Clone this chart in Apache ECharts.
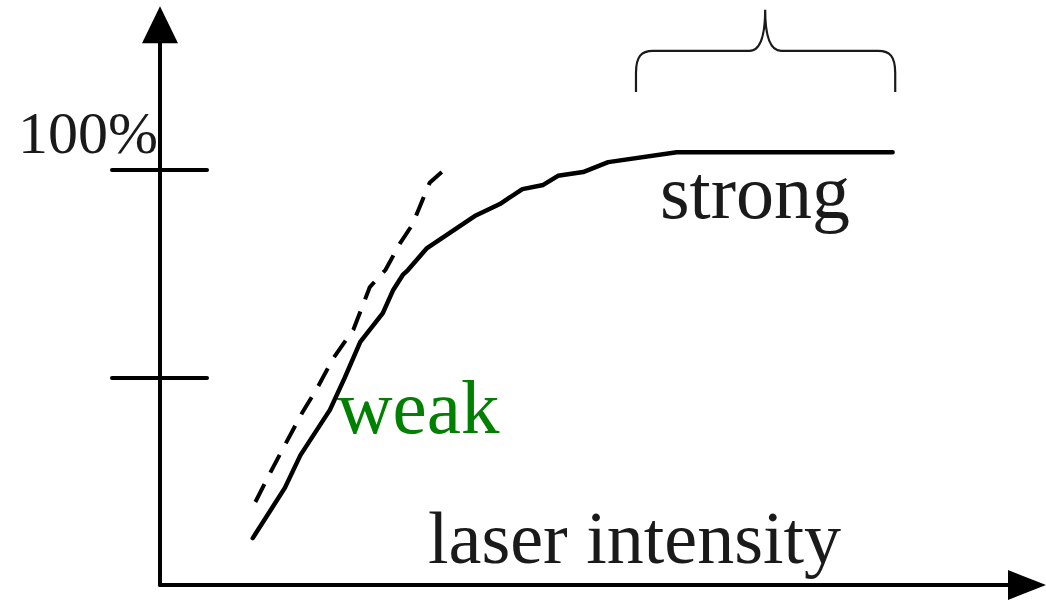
<!DOCTYPE html>
<html>
<head>
<meta charset="utf-8">
<script src="https://cdn.jsdelivr.net/npm/echarts@6/dist/echarts.min.js"></script>
<style>
html, body { margin: 0; padding: 0; background: #fff; }
#chart { width: 1046px; height: 603px; }
</style>
</head>
<body>
<div id="chart"></div>
<script>
// response curve (solid), x = laser intensity, y = percent
const responseX = [10.7, 14.4, 16.2, 19.6, 21.3, 23.1, 25.7, 26.9, 28.0, 28.6, 30.3, 30.8, 36.3, 39.2, 41.8, 44.2, 45.9, 48.8, 51.7, 59.6, 84.5];
const responseY = [11.3, 23.4, 31.3, 42.2, 49.9, 58.6, 65.5, 71.1, 74.7, 75.9, 80.0, 81.2, 88.9, 91.8, 95.4, 96.4, 98.6, 99.5, 101.9, 104.3, 104.3];
// linear (weak) trend, dashed
const linearX = [11.0, 12.7, 14.4, 16.4, 18.2, 20.0, 22.3, 24.2, 26.0, 27.7, 29.1, 31.1, 32.5];
const linearY = [20.0, 27.0, 33.7, 41.5, 47.7, 54.7, 61.5, 71.8, 75.9, 82.4, 86.8, 96.9, 99.5];
// brace over the saturated range: [left, right, middle, endY, barY, tipY]
const brace = [[54.9, 84.8, 69.8, 118.8, 128.7, 138.6]];
const yTicks = [50, 100];
const yLabels = [100];

const ink = '#1a1a1a';
const font = '"Liberation Serif", "Times New Roman", serif';

function pairs(xs, ys) {
    return xs.map((x, i) => [x, ys[i]]);
}

const chart = echarts.init(document.getElementById('chart'), null, { renderer: 'svg' });

const option = {
    animation: false,
    backgroundColor: '#fff',
    grid: { left: 160, right: 19, top: 24.75, bottom: 18 },
    xAxis: {
        type: 'value',
        min: 0,
        max: 100,
        axisLine: {
            show: true,
            symbol: ['none', 'triangle'],
            symbolSize: [30, 38],
            lineStyle: { color: '#000', width: 4 }
        },
        axisTick: { show: false },
        axisLabel: { show: false },
        splitLine: { show: false }
    },
    yAxis: [{
        type: 'value',
        min: 0,
        max: 135,
        axisLine: {
            show: true,
            symbol: ['none', 'triangle'],
            symbolSize: [36, 37],
            lineStyle: { color: '#000', width: 4 }
        },
        axisTick: {
            show: true,
            customValues: yTicks,
            length: 48,
            lineStyle: { color: '#000', width: 4, cap: 'round' }
        },
        axisLabel: {
            show: true,
            customValues: yLabels,
            formatter: '{value}%',
            margin: 2,
            fontFamily: font,
            fontSize: 60,
            color: ink,
            verticalAlign: 'bottom',
            lineHeight: 60,
            padding: [0, 0, 7, 0]
        },
        splitLine: { show: false }
    }, {
        type: 'value',
        min: 0,
        max: 135,
        position: 'left',
        axisLine: { show: false },
        axisTick: {
            show: true,
            inside: true,
            customValues: yTicks,
            length: 47,
            lineStyle: { color: '#000', width: 4, cap: 'round' }
        },
        axisLabel: { show: false },
        splitLine: { show: false }
    }],
    series: [{
        type: 'line',
        data: pairs(responseX, responseY),
        symbol: 'none',
        lineStyle: { color: '#000', width: 4.5, cap: 'round', join: 'round' }
    }, {
        type: 'line',
        data: pairs(linearX, linearY),
        symbol: 'none',
        lineStyle: { color: '#000', width: 4, type: [20, 13] }
    }, {
        type: 'custom',
        data: brace,
        renderItem: function (params, api) {
            const l = api.coord([api.value(0), api.value(3)]);
            const r = api.coord([api.value(1), api.value(3)]);
            const m = api.coord([api.value(2), api.value(5)]);
            const yh = api.coord([api.value(2), api.value(4)])[1];
            const yb = l[1];
            const d = [
                'M', l[0], yb,
                'L', l[0], yh + 22,
                'C', l[0], yh + 6, l[0] + 5, yh, l[0] + 17, yh,
                'L', m[0] - 16, yh,
                'Q', m[0], yh, m[0], m[1],
                'Q', m[0], yh, m[0] + 16, yh,
                'L', r[0] - 17, yh,
                'C', r[0] - 5, yh, r[0], yh + 6, r[0], yh + 22,
                'L', r[0], yb
            ].join(' ');
            return {
                type: 'path',
                shape: { pathData: d },
                style: { fill: 'none', stroke: ink, lineWidth: 2.2 }
            };
        }
    }],
    graphic: [{
        type: 'text',
        x: 660, y: 192,
        style: { text: 'strong', font: '76px ' + font, fill: ink, verticalAlign: 'middle' }
    }, {
        type: 'text',
        x: 337, y: 407,
        style: { text: 'weak', font: '77px ' + font, fill: '#008000', verticalAlign: 'middle' }
    }, {
        type: 'text',
        x: 428, y: 538,
        style: { text: 'laser intensity', font: '74px ' + font, fill: ink, verticalAlign: 'middle' }
    }]
};

chart.setOption(option);
</script>
</body>
</html>
